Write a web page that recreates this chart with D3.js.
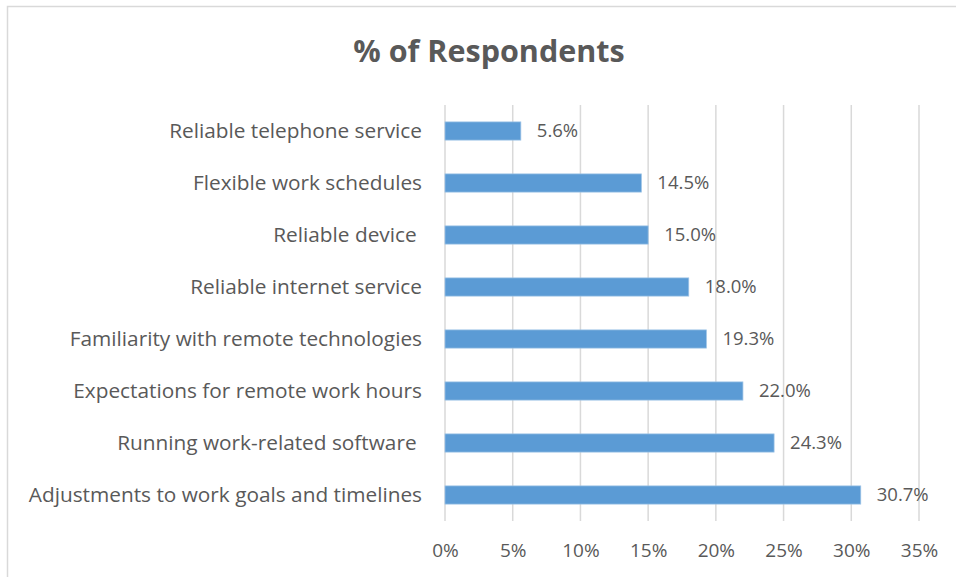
<!DOCTYPE html>
<html>
<head>
<meta charset="utf-8">
<script src="https://cdn.jsdelivr.net/npm/d3@7"></script>
<style>
  body { margin: 0; background: #fff; }
  svg text { font-family: "Open Sans", "Noto Sans", sans-serif; fill: #595959; white-space: pre; }
</style>
</head>
<body>
<script>
const w = 956;
const h = 577;

// data, top to bottom
const categories = [
  "Reliable telephone service",
  "Flexible work schedules",
  "Reliable device ",
  "Reliable internet service",
  "Familiarity with remote technologies",
  "Expectations for remote work hours",
  "Running work-related software ",
  "Adjustments to work goals and timelines"
];
const values = [5.6, 14.5, 15.0, 18.0, 19.3, 22.0, 24.3, 30.7];
const xTicks = [0, 5, 10, 15, 20, 25, 30, 35];
const title = "% of Respondents";

const plotLeft = 445;
const plotRight = 919;
const plotTop = 105;
const plotBottom = 521;

const svg = d3.select("body").append("svg").attr("width", w).attr("height", h);

// chart border (right and bottom run off the picture)
svg.append("rect")
  .attr("x", 7.5).attr("y", 6.5)
  .attr("width", 1000).attr("height", 700)
  .attr("fill", "none")
  .attr("stroke", "#d9d9d9")
  .attr("stroke-width", 1.5);

svg.append("text")
  .attr("x", 489)
  .attr("y", 62)
  .attr("text-anchor", "middle")
  .style("font-size", "30.5px")
  .style("font-weight", "bold")
  .text(title);

const xScale = d3.scaleLinear().domain([0, 35]).range([plotLeft, plotRight]);
const yScale = d3.scaleBand()
  .domain(categories)
  .range([plotTop, plotBottom])
  .paddingInner(0.65)
  .paddingOuter(0.325);

// gridlines
svg.append("g")
  .selectAll("line")
  .data(xTicks)
  .enter()
  .append("line")
  .attr("x1", d => xScale(d)).attr("x2", d => xScale(d))
  .attr("y1", plotTop).attr("y2", plotBottom)
  .attr("stroke", "#d9d9d9")
  .attr("stroke-width", 1.5);

// x axis labels
const xAxis = d3.axisBottom(xScale)
  .tickValues(xTicks)
  .tickFormat(d => d + "%")
  .tickSize(0)
  .tickPadding(0);

const xg = svg.append("g")
  .attr("transform", "translate(0," + (plotBottom + 22) + ")")
  .call(xAxis);
xg.select(".domain").remove();
xg.selectAll("text").style("font-size", "19px").attr("fill", "#595959");

// category labels
const yAxis = d3.axisLeft(yScale).tickSize(0).tickPadding(23);
const yg = svg.append("g")
  .attr("transform", "translate(" + plotLeft + ",0)")
  .call(yAxis);
yg.select(".domain").remove();
yg.selectAll("text").style("font-size", "20.8px").attr("fill", "#595959");

// bars
svg.append("g")
  .selectAll(".bar")
  .data(values)
  .enter()
  .append("rect")
  .attr("class", "bar")
  .attr("x", xScale(0))
  .attr("y", (d, i) => yScale(categories[i]))
  .attr("width", d => xScale(d) - xScale(0))
  .attr("height", yScale.bandwidth())
  .attr("fill", "#5b9bd5")
  .attr("stroke", "#9dc3e6")
  .attr("stroke-width", 0.75);

// value labels
svg.append("g")
  .selectAll(".bar-label")
  .data(values)
  .enter()
  .append("text")
  .attr("class", "bar-label")
  .attr("x", d => xScale(d) + 16)
  .attr("y", (d, i) => yScale(categories[i]) + yScale.bandwidth() / 2)
  .attr("dy", "0.35em")
  .style("font-size", "18.5px")
  .text(d => d.toFixed(1) + "%");
</script>
</body>
</html>
